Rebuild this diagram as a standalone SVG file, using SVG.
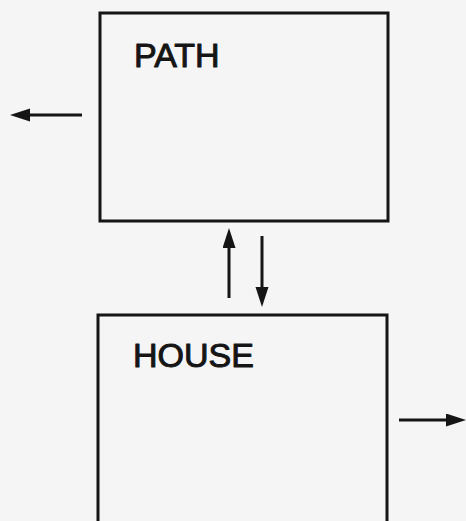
<svg xmlns="http://www.w3.org/2000/svg" width="466" height="521" viewBox="0 0 466 521">
  <style>
    .box { fill: none; stroke: #151515; stroke-width: 3; }
    .label { font-family: "Liberation Sans", Arial, sans-serif; font-size: 34px; fill: #151515; stroke: #151515; stroke-width: 1; stroke-linejoin: round; }
    .flow { stroke: #151515; stroke-width: 3; fill: none; marker-end: url(#head); }
  </style>
  <defs>
    <marker id="head" markerUnits="userSpaceOnUse" markerWidth="22" markerHeight="14" refX="0" refY="6.5" orient="auto">
      <path d="M0,0 L20,6.5 L0,13 Z" fill="#151515"/>
    </marker>
  </defs>
  <rect width="466" height="521" fill="#f5f5f5"/>

  <g id="path-node">
    <rect class="box" x="100" y="13" width="288" height="208"/>
    <text class="label" x="134" y="67">PATH</text>
  </g>

  <g id="house-node">
    <rect class="box" x="98" y="315" width="289" height="220"/>
    <text class="label" x="133" y="367">HOUSE</text>
  </g>

  <g id="connectors">
    <line class="flow" x1="82" y1="115" x2="30" y2="115"/>
    <line class="flow" x1="229" y1="298" x2="229" y2="248"/>
    <line class="flow" x1="262" y1="236" x2="262" y2="287"/>
    <line class="flow" x1="399" y1="420" x2="446" y2="420"/>
  </g>
</svg>
